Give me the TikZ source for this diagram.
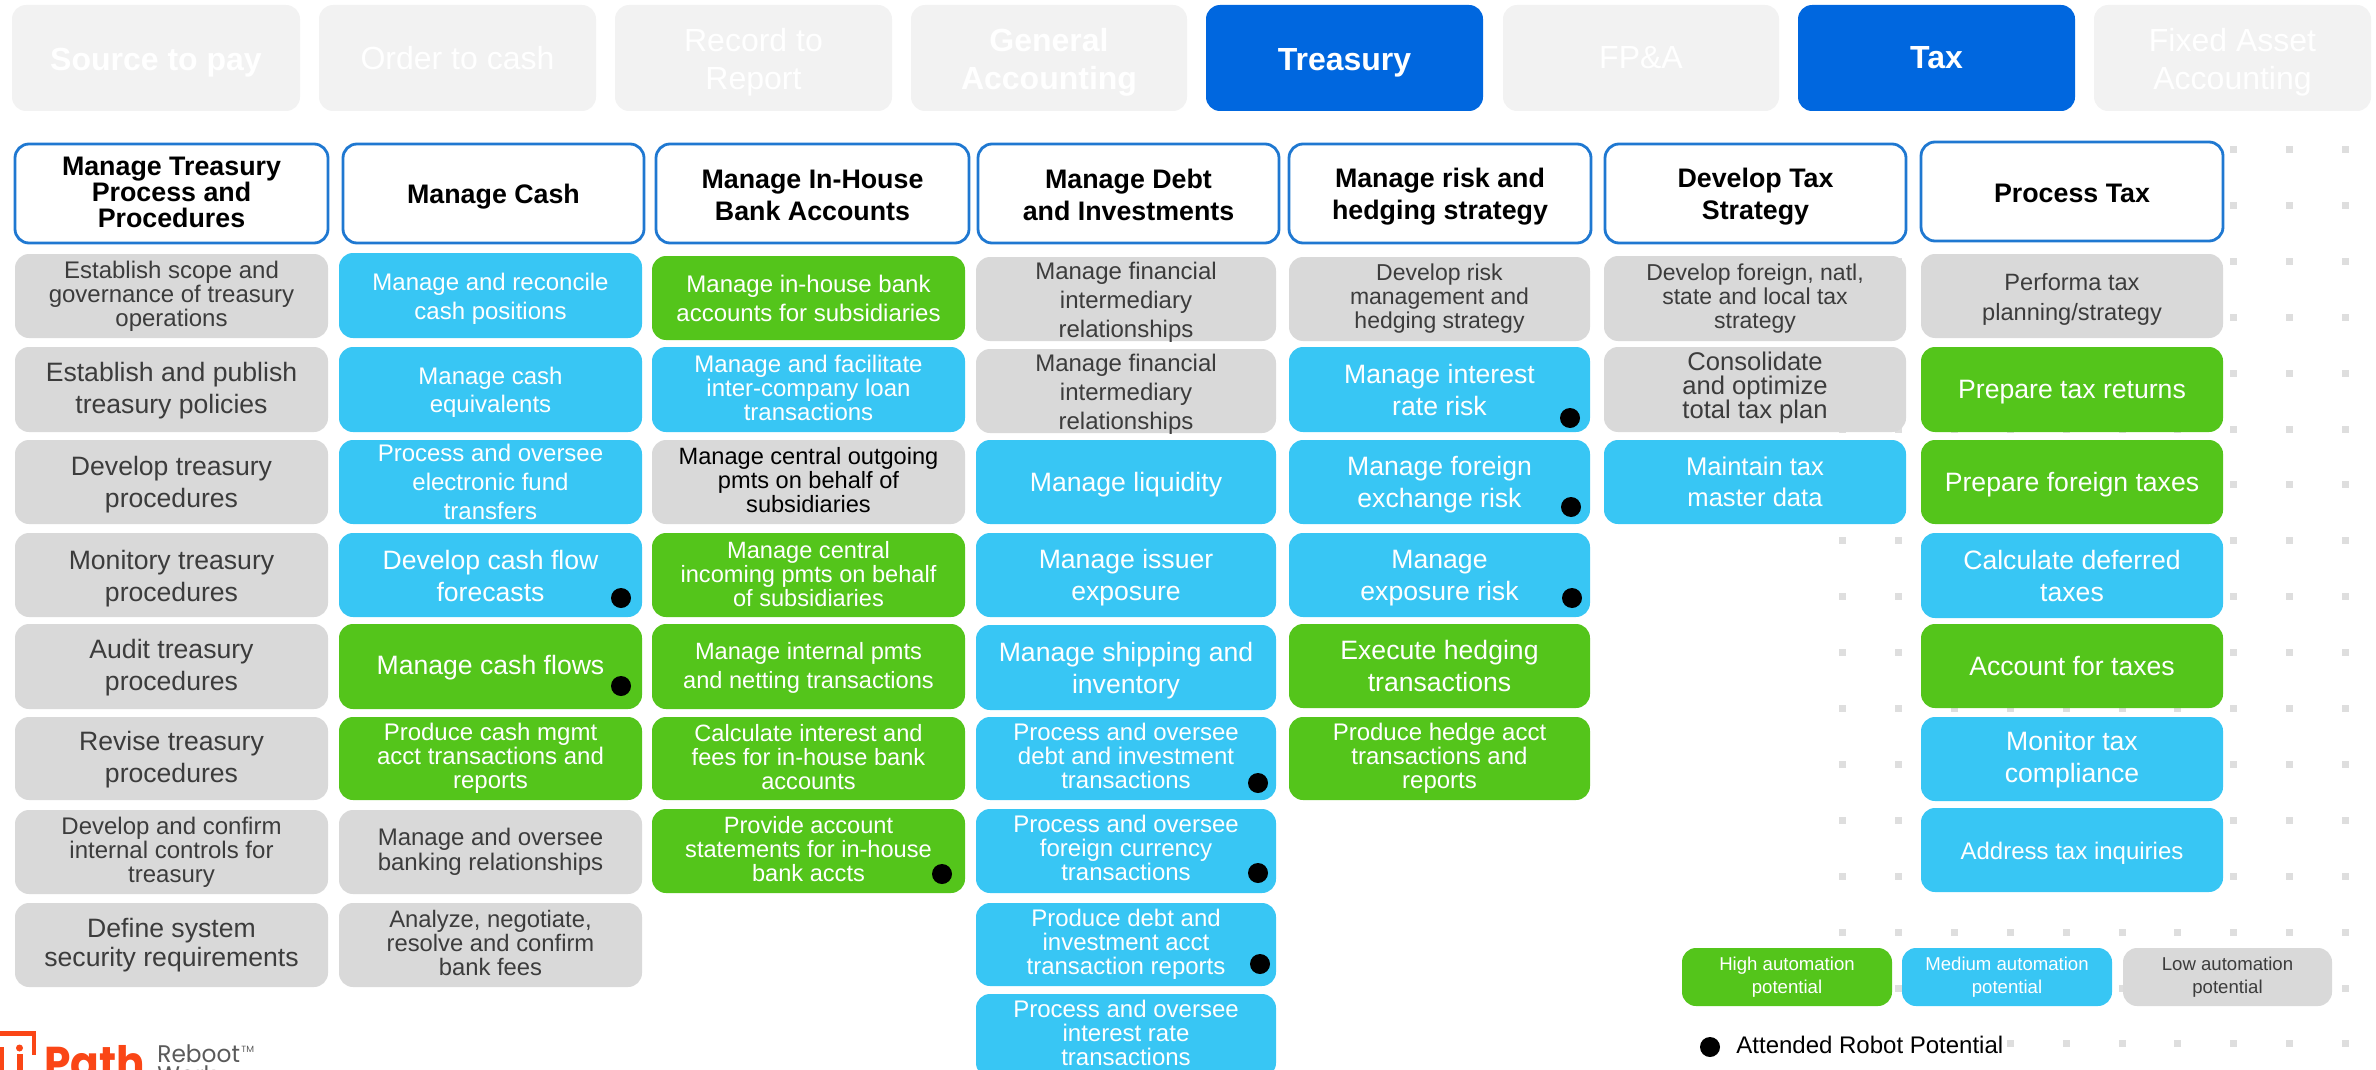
\documentclass[tikz,border=0pt]{standalone}
\usepackage{fontspec}
\setmainfont{Liberation Sans}
\newfontfamily\logofont{Poppins}
\definecolor{cblue}{HTML}{38C6F4}
\definecolor{cgreen}{HTML}{54C51B}
\definecolor{cgray}{HTML}{D9D9D9}
\definecolor{ctab}{HTML}{F2F2F2}
\definecolor{cdeep}{HTML}{0067DF}
\definecolor{cline}{HTML}{1F78D1}
\definecolor{ctext}{HTML}{3C3C3C}
\definecolor{cgrid}{HTML}{DEDEDE}
\definecolor{clogo}{HTML}{FA4616}
\definecolor{clogotext}{HTML}{5A5A5A}
\tikzset{
  basebox/.style={rectangle,rounded corners=7pt,inner sep=0pt},
  tabbox/.style={basebox,fill=ctab},
  tabsel/.style={basebox,fill=cdeep},
  headbox/.style={basebox,fill=white,draw=cline,line width=1.4pt},
  graybox/.style={basebox,fill=cgray},
  bluebox/.style={basebox,fill=cblue},
  greenbox/.style={basebox,fill=cgreen},
  celltext/.style={inner sep=0pt,align=center,fill=none,draw=none},
  robotdot/.style={circle,fill=black,inner sep=0pt,minimum size=10pt},
  gridsq/.style={fill=cgrid},
  wt/.style={text=white},kt/.style={text=black},gt/.style={text=ctext}
}
% name, x0, y0, x1, y1, box style + text colour, {size}{leading}, text offset (px), text
\newcommand{\Cell}[9]{%
  \pgfmathsetmacro{\cw}{(#4-#2)*0.5}\pgfmathsetmacro{\ch}{(#5-#3)*0.5}%
  \pgfmathsetmacro{\cx}{(#2+#4)/2}\pgfmathsetmacro{\cy}{(#3+#5)/2+(#8)}%
  \node[#6,minimum width=\cw pt,minimum height=\ch pt] (#1) at ({(#2+#4)/2},{(#3+#5)/2}) {};
  \node[#6,celltext,font=\fontsize#7\selectfont] (#1t) at (\cx,\cy) {#9};}
\begin{document}
\begin{tikzpicture}[x=0.5pt,y=-0.5pt]
\useasboundingbox (0,0) rectangle (2376,1070);
\clip (0,0) rectangle (2376,1070);
% background dot grid
\foreach \r in {0,...,16}{
  \foreach \c in {0,...,9}{
    \pgfmathsetmacro{\gx}{1842.5+55.9*\c}
    \pgfmathsetmacro{\gy}{149.5+55.9*\r}
    \fill[gridsq] (\gx-3.5,\gy-3.5) rectangle (\gx+3.5,\gy+3.5);
  }
}
% tabs
\Cell{t1}{12}{5}{300}{111}{tabbox,wt}{{16}{19}}{4.5}{\bfseries Source to pay}
\Cell{t2}{319}{5}{596}{111}{tabbox,wt}{{16}{19}}{0}{Order to cash}
\Cell{t3}{615}{5}{892}{111}{tabbox,wt}{{16}{19}}{4}{Record to\\Report}
\Cell{t4}{911}{5}{1187}{111}{tabbox,wt}{{16}{19}}{4}{\bfseries General\\\bfseries Accounting}
\Cell{t5}{1206}{5}{1483}{111}{tabsel,wt}{{16}{19}}{4.5}{\bfseries Treasury}
\Cell{t6}{1503}{5}{1779}{111}{tabbox,wt}{{16}{19}}{0}{FP\&A}
\Cell{t7}{1798}{5}{2075}{111}{tabsel,wt}{{16}{19}}{0}{\bfseries Tax}
\Cell{t8}{2094}{5}{2371}{111}{tabbox,wt}{{16}{19}}{4}{Fixed Asset\\Accounting}
% headers
\Cell{h1}{15}{144}{328}{243}{headbox,kt}{{13.4}{13}}{-1.5}{\bfseries Manage Treasury\\\bfseries Process and\\\bfseries Procedures}
\Cell{h2}{343}{144}{644}{243}{headbox,kt}{{13.4}{16}}{3}{\bfseries Manage Cash}
\Cell{h3}{656}{144}{969}{243}{headbox,kt}{{13.4}{16}}{1.5}{\bfseries Manage In-House\\\bfseries Bank Accounts}
\Cell{h4}{978}{144}{1279}{243}{headbox,kt}{{13.4}{16}}{1.5}{\bfseries Manage Debt\\\bfseries and Investments}
\Cell{h5}{1289}{144}{1591}{243}{headbox,kt}{{13.4}{16}}{3}{\bfseries Manage risk and\\\bfseries hedging strategy}
\Cell{h6}{1605}{144}{1906}{243}{headbox,kt}{{13.4}{16}}{3}{\bfseries Develop Tax\\\bfseries Strategy}
\Cell{h7}{1921}{142}{2223}{241}{headbox,kt}{{13.4}{16}}{1.5}{\bfseries Process Tax}
% column 1
\Cell{a1}{15}{254}{328}{338}{graybox,gt}{{12}{12}}{0}{Establish scope and\\governance of treasury\\operations}
\Cell{a2}{15}{347}{328}{432}{graybox,gt}{{13.3}{16}}{1.5}{Establish and publish\\treasury policies}
\Cell{a3}{15}{440}{328}{524}{graybox,gt}{{13.3}{16}}{3}{Develop treasury\\procedures}
\Cell{a4}{15}{533}{328}{617}{graybox,gt}{{13.3}{16}}{3.5}{Monitory treasury\\procedures}
\Cell{a5}{15}{624}{328}{709}{graybox,gt}{{13.3}{16}}{1.5}{Audit treasury\\procedures}
\Cell{a6}{15}{717}{328}{800}{graybox,gt}{{13.3}{16}}{1.5}{Revise treasury\\procedures}
\Cell{a7}{15}{810}{328}{894}{graybox,gt}{{12}{12}}{0}{Develop and confirm\\internal controls for\\treasury}
\Cell{a8}{15}{903}{328}{987}{graybox,gt}{{13.3}{14.5}}{0}{Define system\\security requirements}
% column 2
\Cell{b1}{339}{253}{642}{338}{bluebox,wt}{{12}{14.5}}{3}{Manage and reconcile\\cash positions}
\Cell{b2}{339}{347}{642}{432}{bluebox,wt}{{12}{14}}{3}{Manage cash\\equivalents}
\Cell{b3}{339}{440}{642}{524}{bluebox,wt}{{12}{14.5}}{0}{Process and oversee\\electronic fund\\transfers}
\Cell{b4}{339}{533}{642}{617}{bluebox,wt}{{13.3}{16}}{1}{Develop cash flow\\forecasts}
\Cell{b5}{339}{624}{642}{709}{greenbox,wt}{{13.3}{16}}{1.5}{Manage cash flows}
\Cell{b6}{339}{717}{642}{800}{greenbox,wt}{{12}{12}}{0}{Produce cash mgmt\\acct transactions and\\reports}
\Cell{b7}{339}{810}{642}{894}{graybox,gt}{{12}{12.5}}{0}{Manage and oversee\\banking relationships}
\Cell{b8}{339}{903}{642}{987}{graybox,gt}{{11.9}{12}}{-2.5}{Analyze, negotiate,\\resolve and confirm\\bank fees}
% column 3
\Cell{c1}{652}{256}{965}{340}{greenbox,wt}{{12}{14.5}}{0}{Manage in-house bank\\accounts for subsidiaries}
\Cell{c2}{652}{347}{965}{432}{bluebox,wt}{{12}{12}}{-1.5}{Manage and facilitate\\inter-company loan\\transactions}
\Cell{c3}{652}{440}{965}{524}{graybox,kt}{{11.8}{12}}{-1.5}{Manage central outgoing\\pmts on behalf of\\subsidiaries}
\Cell{c4}{652}{533}{965}{617}{greenbox,wt}{{11.8}{12}}{-1}{Manage central\\incoming pmts on behalf\\of subsidiaries}
\Cell{c5}{652}{624}{965}{709}{greenbox,wt}{{11.8}{14.5}}{1.5}{Manage internal pmts\\and netting transactions}
\Cell{c6}{652}{717}{965}{800}{greenbox,wt}{{11.8}{12}}{-1.5}{Calculate interest and\\fees for in-house bank\\accounts}
\Cell{c7}{652}{809}{965}{893}{greenbox,wt}{{11.8}{12}}{-1.5}{Provide account\\statements for in-house\\bank accts}
% column 4
\Cell{d1}{976}{257}{1276}{341}{graybox,gt}{{12}{14.5}}{3}{Manage financial\\intermediary\\relationships}
\Cell{d2}{976}{349}{1276}{433}{graybox,gt}{{12}{14.5}}{3}{Manage financial\\intermediary\\relationships}
\Cell{d3}{976}{440}{1276}{524}{bluebox,wt}{{13.3}{16}}{3}{Manage liquidity}
\Cell{d4}{976}{533}{1276}{617}{bluebox,wt}{{13.3}{16}}{3}{Manage issuer\\exposure}
\Cell{d5}{976}{625}{1276}{710}{bluebox,wt}{{13.3}{16}}{3}{Manage shipping and\\inventory}
\Cell{d6}{976}{717}{1276}{800}{bluebox,wt}{{12}{12}}{-3}{Process and oversee\\debt and investment\\transactions}
\Cell{d7}{976}{809}{1276}{893}{bluebox,wt}{{12}{12}}{-3}{Process and oversee\\foreign currency\\transactions}
\Cell{d8}{976}{903}{1276}{986}{bluebox,wt}{{12}{12}}{-0.5}{Produce debt and\\investment acct\\transaction reports}
\Cell{d9}{976}{994}{1276}{1077}{bluebox,wt}{{12}{12}}{-3}{Process and oversee\\interest rate\\transactions}
% column 5
\Cell{e1}{1289}{257}{1590}{341}{graybox,gt}{{11.5}{12}}{0}{Develop risk\\management and\\hedging strategy}
\Cell{e2}{1289}{347}{1590}{432}{bluebox,wt}{{13.3}{16}}{0}{Manage interest\\rate risk}
\Cell{e3}{1289}{440}{1590}{524}{bluebox,wt}{{13.3}{16}}{3}{Manage foreign\\exchange risk}
\Cell{e4}{1289}{533}{1590}{617}{bluebox,wt}{{13.3}{16}}{3}{Manage\\exposure risk}
\Cell{e5}{1289}{624}{1590}{708}{greenbox,wt}{{13.3}{16}}{0}{Execute hedging\\transactions}
\Cell{e6}{1289}{717}{1590}{800}{greenbox,wt}{{12}{12}}{0}{Produce hedge acct\\transactions and\\reports}
% column 6
\Cell{f1}{1604}{256}{1906}{341}{graybox,gt}{{11.5}{12}}{0}{Develop foreign, natl,\\state and local tax\\strategy}
\Cell{f2}{1604}{347}{1906}{432}{graybox,gt}{{12.8}{12}}{-1.5}{Consolidate\\and optimize\\total tax plan}
\Cell{f3}{1604}{440}{1906}{524}{bluebox,wt}{{12.8}{15.5}}{0}{Maintain tax\\master data}
% column 7
\Cell{g1}{1921}{254}{2223}{338}{graybox,gt}{{11.8}{15}}{3}{Performa tax\\planning/strategy}
\Cell{g2}{1921}{347}{2223}{432}{greenbox,wt}{{13.3}{16}}{3}{Prepare tax returns}
\Cell{g3}{1921}{440}{2223}{524}{greenbox,wt}{{13.3}{16}}{3}{Prepare foreign taxes}
\Cell{g4}{1921}{533}{2223}{618}{bluebox,wt}{{13.3}{16}}{0}{Calculate deferred\\taxes}
\Cell{g5}{1921}{624}{2223}{708}{greenbox,wt}{{13.3}{16}}{0}{Account for taxes}
\Cell{g6}{1921}{717}{2223}{801}{bluebox,wt}{{13.3}{16}}{1}{Monitor tax\\compliance}
\Cell{g7}{1921}{808}{2223}{892}{bluebox,wt}{{12}{14}}{3}{Address tax inquiries}
% attended robot dots
\node[robotdot] (r1) at (621,598) {};
\node[robotdot] (r2) at (621,686) {};
\node[robotdot] (r3) at (942,874) {};
\node[robotdot] (r4) at (1258,783) {};
\node[robotdot] (r5) at (1258,873) {};
\node[robotdot] (r6) at (1260,964) {};
\node[robotdot] (r7) at (1570,418) {};
\node[robotdot] (r8) at (1571,507) {};
\node[robotdot] (r9) at (1572,598) {};
% legend
\Cell{l1}{1682}{948}{1892}{1006}{greenbox,wt}{{9.3}{11.5}}{0.5}{High automation\\potential}
\Cell{l2}{1902}{948}{2112}{1006}{bluebox,wt}{{9.3}{11.5}}{0.5}{Medium automation\\potential}
\Cell{l3}{2123}{948}{2332}{1006}{graybox,gt}{{9.3}{11.5}}{0.5}{Low automation\\potential}
\node[robotdot] (ldot) at (1710,1047) {};
\node[anchor=west,fill=white,inner sep=0.5pt,text=black,font=\fontsize{12}{14}\selectfont] (ltext) at (1735,1045) {Attended Robot Potential};
% logo
\fill[clogo] (-2,1031) rectangle (36,1036);
\fill[clogo] (32,1031) rectangle (36,1055);
\fill[clogo] (-2,1047) rectangle (4,1074);
\fill[clogo] (17,1054) rectangle (23,1074);
\node[circle,fill=clogo,inner sep=0pt,minimum size=3.5pt] (logodot) at (19.5,1048) {};
\node[anchor=base west,inner sep=0pt,text=clogo,font=\logofont\bfseries\fontsize{23}{26}\selectfont] (logopath) at (44,1079) {\scalebox{0.92}[1]{Path}};
\node[anchor=base west,inner sep=0pt,text=clogotext,font=\logofont\fontsize{12}{14}\selectfont] (logoreboot) at (157,1062) {\scalebox{0.97}[1]{Reboot}};
\node[anchor=base west,inner sep=0pt,text=clogotext,font=\logofont\fontsize{12}{14}\selectfont] (logowork) at (157,1083) {\scalebox{0.97}[1]{Work}};
\node[anchor=base west,inner sep=0pt,text=clogotext,font=\logofont\fontsize{4.5}{5}\selectfont] (logotm) at (241,1052) {TM};
\end{tikzpicture}
\end{document}
